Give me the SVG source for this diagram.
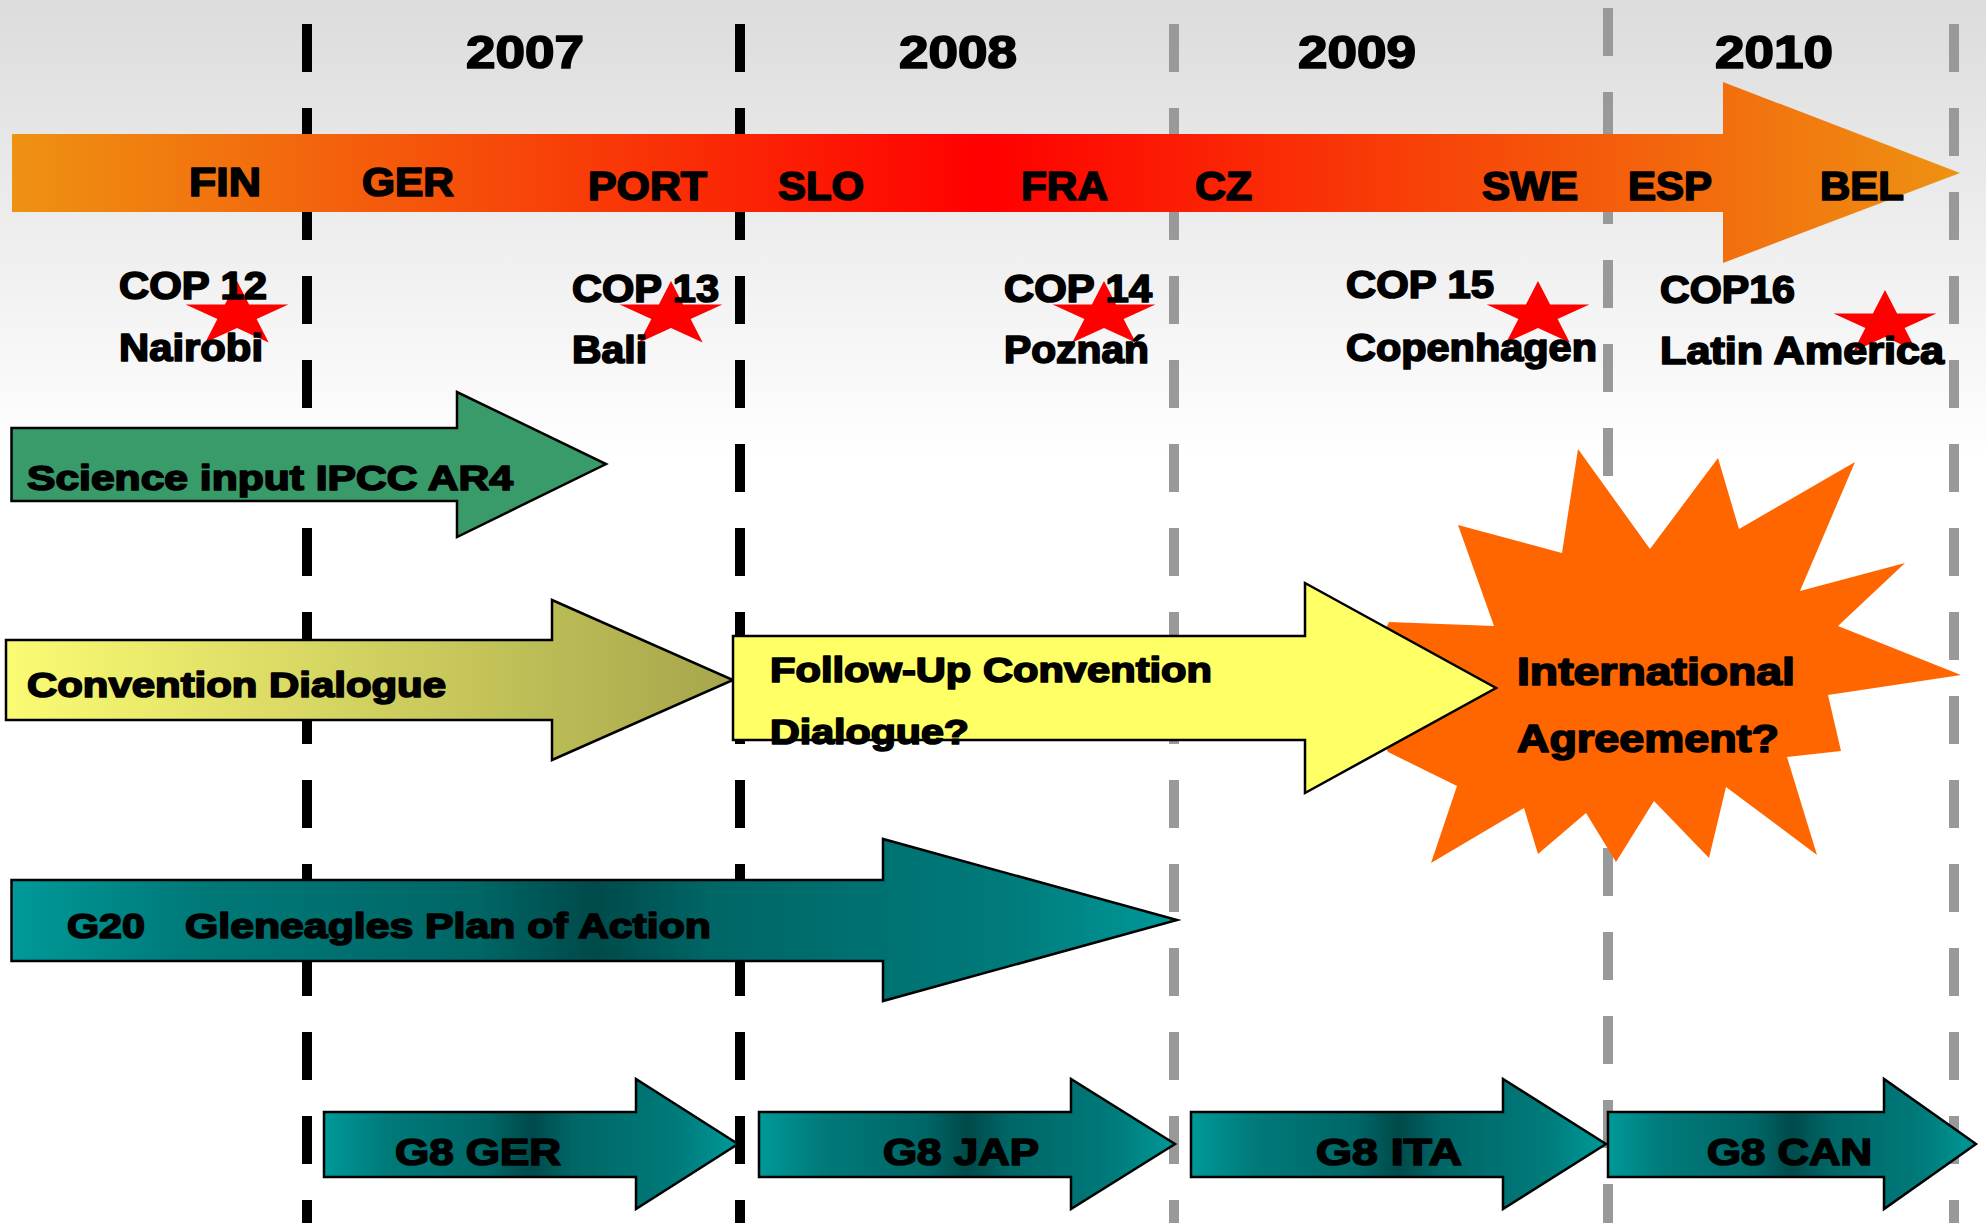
<svg xmlns="http://www.w3.org/2000/svg" width="1986" height="1223" viewBox="0 0 1986 1223">
<style>
.t{font-family:"Liberation Sans",Arial,sans-serif;font-weight:bold;fill:#000;stroke:#000;stroke-width:1.7px;stroke-linejoin:round}
.yr{font-size:46px}
.bl{font-size:40px}
.cp{font-size:38px}
.al{font-size:35px}
.g8{font-size:37px}
.blk{stroke:#000;stroke-width:10;stroke-dasharray:48 36;fill:none}
.gry{stroke:#999;stroke-width:10;stroke-dasharray:48 36;fill:none}
.ol{stroke:#000;stroke-width:2.5;stroke-linejoin:miter}
.star{fill:#f00}
</style>
<defs>
<linearGradient id="bg" x1="0" y1="0" x2="0" y2="460" gradientUnits="userSpaceOnUse">
<stop offset="0" stop-color="#dcdcdc"/>
<stop offset="1" stop-color="#ffffff"/>
</linearGradient>
<linearGradient id="tl" x1="12" y1="0" x2="1960" y2="0" gradientUnits="userSpaceOnUse">
<stop offset="0" stop-color="#ee9212"/>
<stop offset="0.5" stop-color="#ff0000"/>
<stop offset="1" stop-color="#ee9212"/>
</linearGradient>
<linearGradient id="yel" x1="0" y1="0" x2="1" y2="0">
<stop offset="0" stop-color="#fbfb74"/>
<stop offset="1" stop-color="#a6a64c"/>
</linearGradient>
<linearGradient id="teal" x1="0" y1="0" x2="1" y2="0">
<stop offset="0" stop-color="#009999"/>
<stop offset="0.15" stop-color="#007a7a"/>
<stop offset="0.4" stop-color="#006666"/>
<stop offset="0.5" stop-color="#004a4a"/>
<stop offset="0.6" stop-color="#006666"/>
<stop offset="0.85" stop-color="#007a7a"/>
<stop offset="1" stop-color="#009999"/>
</linearGradient>
<path id="st" d="M0,-34 L12.1,-10.5 L51.4,-10.5 L19.6,4 L31.7,27.5 L0,13 L-31.7,27.5 L-19.6,4 L-51.4,-10.5 L-12.1,-10.5 Z"/>
</defs>
<rect width="1986" height="1223" fill="url(#bg)"/>
<g id="gridlines">
<line class="blk" x1="307" y1="24" x2="307" y2="1223"/>
<line class="blk" x1="740" y1="24" x2="740" y2="1223"/>
<line class="gry" x1="1174" y1="24" x2="1174" y2="1223"/>
<line class="gry" x1="1608" y1="8" x2="1608" y2="1223"/>
<line class="gry" x1="1954" y1="24" x2="1954" y2="1223"/>
</g>
<g id="connectors"></g>
<g id="years">
<text class="t yr" x="466" y="68" textLength="118" lengthAdjust="spacingAndGlyphs">2007</text>
<text class="t yr" x="899" y="68" textLength="118" lengthAdjust="spacingAndGlyphs">2008</text>
<text class="t yr" x="1298" y="68" textLength="118" lengthAdjust="spacingAndGlyphs">2009</text>
<text class="t yr" x="1715" y="68" textLength="118" lengthAdjust="spacingAndGlyphs">2010</text>
</g>
<g id="timeline">
<path d="M12,134 H1723 V82 L1960,173 L1723,263 V212 H12 Z" fill="url(#tl)"/>
<text class="t bl" x="189" y="196" textLength="72" lengthAdjust="spacingAndGlyphs">FIN</text>
<text class="t bl" x="362" y="196" textLength="92" lengthAdjust="spacingAndGlyphs">GER</text>
<text class="t bl" x="588" y="200" textLength="119" lengthAdjust="spacingAndGlyphs">PORT</text>
<text class="t bl" x="778" y="200" textLength="86" lengthAdjust="spacingAndGlyphs">SLO</text>
<text class="t bl" x="1021" y="200" textLength="87" lengthAdjust="spacingAndGlyphs">FRA</text>
<text class="t bl" x="1195" y="200" textLength="57" lengthAdjust="spacingAndGlyphs">CZ</text>
<text class="t bl" x="1482" y="200" textLength="96" lengthAdjust="spacingAndGlyphs">SWE</text>
<text class="t bl" x="1628" y="200" textLength="84" lengthAdjust="spacingAndGlyphs">ESP</text>
<text class="t bl" x="1820" y="200" textLength="84" lengthAdjust="spacingAndGlyphs">BEL</text>
</g>
<g id="cop12">
<use href="#st" class="star" x="237" y="315"/>
<text class="t cp" x="119" y="299" textLength="148" lengthAdjust="spacingAndGlyphs">COP 12</text>
<text class="t cp" x="119" y="361" textLength="144" lengthAdjust="spacingAndGlyphs">Nairobi</text>
</g>
<g id="cop13">
<use href="#st" class="star" x="671" y="315"/>
<text class="t cp" x="572" y="302" textLength="147" lengthAdjust="spacingAndGlyphs">COP 13</text>
<text class="t cp" x="572" y="363" textLength="75" lengthAdjust="spacingAndGlyphs">Bali</text>
</g>
<g id="cop14">
<use href="#st" class="star" x="1104" y="315"/>
<text class="t cp" x="1004" y="302" textLength="148" lengthAdjust="spacingAndGlyphs">COP 14</text>
<text class="t cp" x="1004" y="363" textLength="145" lengthAdjust="spacingAndGlyphs">Poznań</text>
</g>
<g id="cop15">
<use href="#st" class="star" x="1538" y="315"/>
<text class="t cp" x="1346" y="298" textLength="148" lengthAdjust="spacingAndGlyphs">COP 15</text>
<text class="t cp" x="1346" y="361" textLength="251" lengthAdjust="spacingAndGlyphs">Copenhagen</text>
</g>
<g id="cop16">
<use href="#st" class="star" x="1885" y="324"/>
<text class="t cp" x="1660" y="303" textLength="135" lengthAdjust="spacingAndGlyphs">COP16</text>
<text class="t cp" x="1660" y="364" textLength="284" lengthAdjust="spacingAndGlyphs">Latin America</text>
</g>
<g id="science">
<path class="ol" d="M11.5,428 H457 V392 L606,464 L457,537 V501 H11.5 Z" fill="#3a9b6a"/>
<text class="t al" x="27" y="490" textLength="486" lengthAdjust="spacingAndGlyphs">Science input IPCC AR4</text>
</g>
<g id="agreement">
<polygon fill="#ff6600" points="1578,449 1650,549 1718,458 1739,529 1855,462 1800,591 1905,563 1838,626 1961,675 1828,695 1841,751 1787,757 1817,855 1726,787 1709,858 1654,801 1616,862 1586,813 1538,854 1524,808 1431,863 1457,786 1388,752 1360,680 1389,622 1494,626 1458,525 1562,553"/>
<text class="t cp" x="1517" y="685" textLength="278" lengthAdjust="spacingAndGlyphs">International</text>
<text class="t cp" x="1517" y="752" textLength="262" lengthAdjust="spacingAndGlyphs">Agreement?</text>
</g>
<g id="convention">
<path class="ol" d="M6,640 H552 V600 L733,680 L552,760 V720 H6 Z" fill="url(#yel)"/>
<text class="t al" x="27" y="697" textLength="419" lengthAdjust="spacingAndGlyphs">Convention Dialogue</text>
</g>
<g id="followup">
<path class="ol" d="M733,636 H1305 V583 L1496,688 L1305,793 V740 H733 Z" fill="#ffff66"/>
<text class="t al" x="770" y="682" textLength="442" lengthAdjust="spacingAndGlyphs">Follow-Up Convention</text>
<text class="t al" x="770" y="744" textLength="199" lengthAdjust="spacingAndGlyphs">Dialogue?</text>
</g>
<g id="g20">
<path class="ol" d="M11.5,880 H883 V839 L1177,920 L883,1001 V961 H11.5 Z" fill="url(#teal)"/>
<text class="t al" x="67" y="938" textLength="78" lengthAdjust="spacingAndGlyphs">G20</text>
<text class="t al" x="185" y="938" textLength="526" lengthAdjust="spacingAndGlyphs">Gleneagles Plan of Action</text>
</g>
<g id="g8ger">
<path class="ol" d="M324,1112 H636 V1079 L738,1144 L636,1209 V1177 H324 Z" fill="url(#teal)"/>
<text class="t g8" x="395" y="1165" textLength="166" lengthAdjust="spacingAndGlyphs">G8 GER</text>
</g>
<g id="g8jap">
<path class="ol" d="M759,1112 H1071 V1079 L1175,1144 L1071,1209 V1177 H759 Z" fill="url(#teal)"/>
<text class="t g8" x="883" y="1165" textLength="156" lengthAdjust="spacingAndGlyphs">G8 JAP</text>
</g>
<g id="g8ita">
<path class="ol" d="M1191,1112 H1503 V1079 L1606,1144 L1503,1209 V1177 H1191 Z" fill="url(#teal)"/>
<text class="t g8" x="1316" y="1165" textLength="146" lengthAdjust="spacingAndGlyphs">G8 ITA</text>
</g>
<g id="g8can">
<path class="ol" d="M1608,1112 H1884 V1079 L1976,1144 L1884,1209 V1177 H1608 Z" fill="url(#teal)"/>
<text class="t g8" x="1707" y="1165" textLength="165" lengthAdjust="spacingAndGlyphs">G8 CAN</text>
</g>
</svg>
